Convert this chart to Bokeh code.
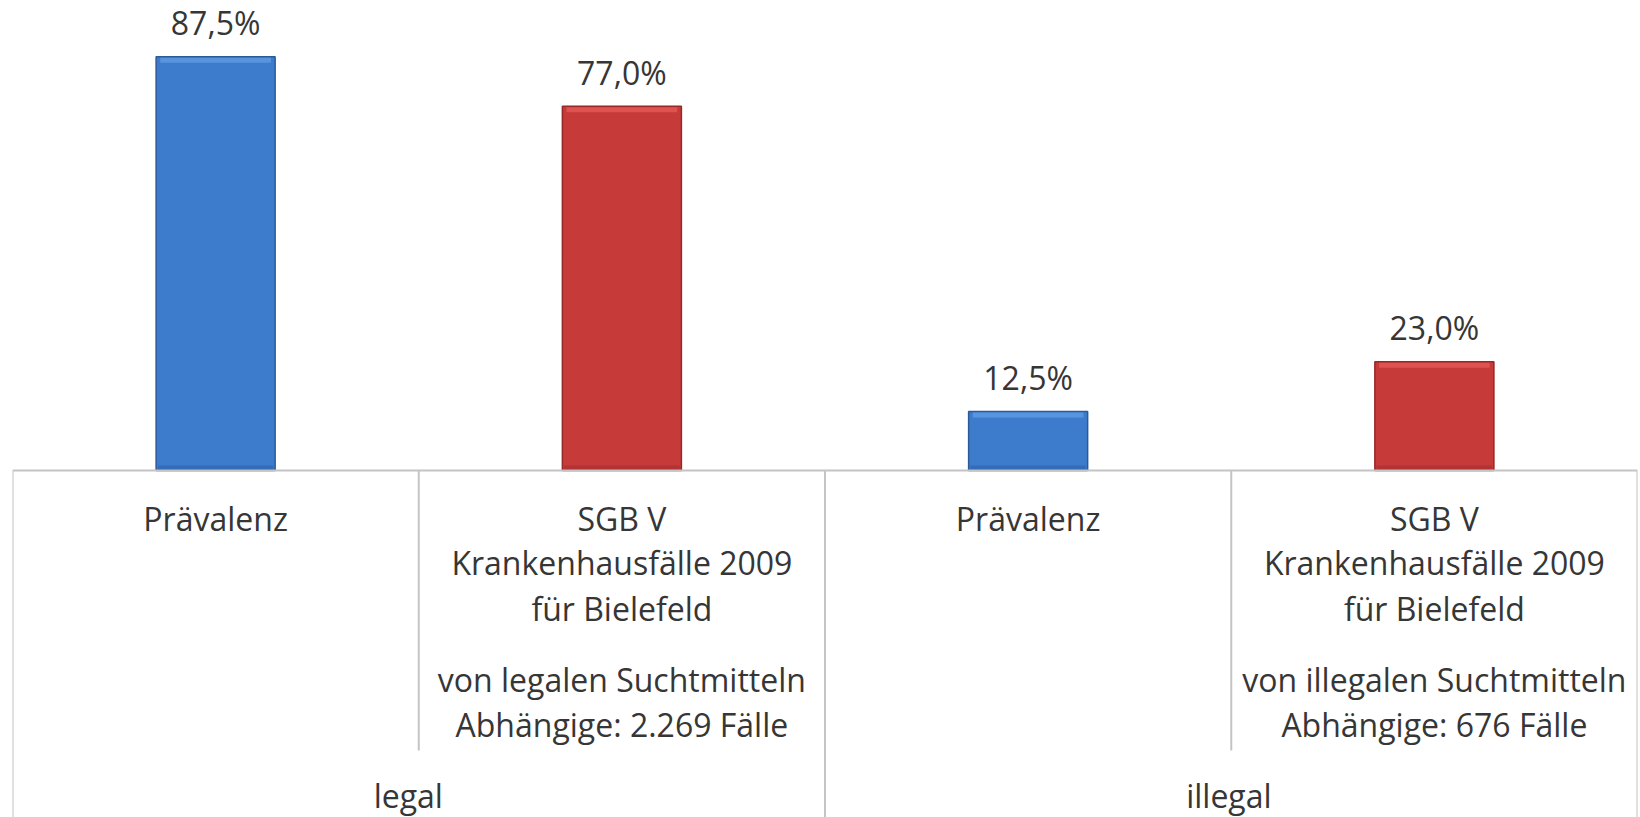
from bokeh.plotting import figure
from bokeh.models import ColumnDataSource, Range1d
from bokeh.core.properties import value
from bokeh.embed import file_html
from bokeh.resources import INLINE

# ---------------- data ----------------
groups = ["legal", "illegal"]
series = ["Prävalenz", "SGB V Krankenhausfälle 2009 für Bielefeld"]
values = [87.5, 77.0, 12.5, 23.0]
value_labels = ["87,5%", "77,0%", "12,5%", "23,0%"]
cat_lines_main = [
    ["Prävalenz"],
    ["SGB V", "Krankenhausfälle 2009", "für Bielefeld"],
    ["Prävalenz"],
    ["SGB V", "Krankenhausfälle 2009", "für Bielefeld"],
]
cat_lines_note = [
    [],
    ["von legalen Suchtmitteln", "Abhängige: 2.269 Fälle"],
    [],
    ["von illegalen Suchtmitteln", "Abhängige: 676 Fälle"],
]
bar_series = [0, 1, 0, 1]

# ---------------- styling ----------------
FONT = "Open Sans"
FS = "32px"
TXT = "#363636"
GRID = "#c4c4c4"
fill_mid = ["#3d7ccc", "#c63a3a"]
fill_top = ["#5b98e0", "#e05552"]
fill_bot = ["#2f62a8", "#a42e2e"]
edge = ["#2c5a99", "#962828"]

W, H = 1640, 817
ML, MR = 12, 3
BASE = 470                    # canvas y of value 0
PXU = 4.73                    # pixels per value unit
Y1 = BASE / PXU
Y0 = (BASE - H) / PXU
TXT_SHIFT = 11                # renderer places alphabetic baseline lower


def ypix(py):
    """value-space y for a canvas-pixel y coordinate"""
    return (BASE - py) / PXU


p = figure(width=W, height=H, output_backend="svg", toolbar_location=None,
           x_range=Range1d(0, len(values)), y_range=Range1d(Y0, Y1),
           min_border_left=ML, min_border_right=MR, min_border_top=0,
           min_border_bottom=0)
p.axis.visible = False
p.grid.visible = False
p.outline_line_color = None
p.background_fill_color = "white"

n = len(values)
xs = [i + 0.5 for i in range(n)]
bw = 0.293

# bars with a simple bevel look
src = ColumnDataSource(dict(
    x=xs, top=values,
    mid=[fill_mid[s] for s in bar_series],
    topc=[fill_top[s] for s in bar_series],
    botc=[fill_bot[s] for s in bar_series],
    edge=[edge[s] for s in bar_series],
    hl_b=[v - 6 / PXU for v in values],
    hl_t=[v - 1 / PXU for v in values],
    sh_t=[5 / PXU for v in values],
))
p.vbar(x="x", top="top", bottom=0, width=bw, source=src,
       fill_color="mid", line_color="edge", line_width=1.5)
p.vbar(x="x", top="hl_t", bottom="hl_b", width=bw * 0.93, source=src,
       fill_color="topc", line_color=None, fill_alpha=0.9)
p.vbar(x="x", top="sh_t", bottom=0, width=bw * 0.97, source=src,
       fill_color="botc", line_color=None, fill_alpha=0.6)

# value labels
p.text(x=xs, y=[v + (23 + TXT_SHIFT) / PXU for v in values], text=value_labels,
       text_font=value(FONT), text_font_size=FS, text_color=TXT,
       text_align="center", text_baseline="alphabetic")

# table lines under the axis
bottom = Y0 - 1
inner_end = ypix(750)
sx0 = [0, 0, n / 2, n]
sy0 = [0, 0, 0, 0]
sx1 = [n, 0, n / 2, n]
sy1 = [0, bottom, bottom, bottom]
for k in range(1, n):
    if k % 2 == 1:
        sx0.append(k)
        sy0.append(0)
        sx1.append(k)
        sy1.append(inner_end)
p.segment(x0=sx0, y0=sy0, x1=sx1, y1=sy1, line_color=GRID, line_width=2)

# category labels
main_base = [529, 573, 619]
note_base = [690, 735]
tx, ty, tt = [], [], []
for i in range(n):
    for j, line in enumerate(cat_lines_main[i]):
        tx.append(xs[i]); ty.append(ypix(main_base[j] - TXT_SHIFT)); tt.append(line)
    for j, line in enumerate(cat_lines_note[i]):
        tx.append(xs[i]); ty.append(ypix(note_base[j] - TXT_SHIFT)); tt.append(line)
p.text(x=tx, y=ty, text=tt, text_font=value(FONT), text_font_size=FS,
       text_color=TXT, text_align="center", text_baseline="alphabetic")

# group labels
gx = [g * 2 + 0.889 for g in range(len(groups))]
p.text(x=gx, y=[ypix(806 - TXT_SHIFT)] * len(groups), text=groups,
       text_font=value(FONT), text_font_size=FS, text_color=TXT,
       text_align="left", text_baseline="alphabetic")

open("out.html", "w").write(file_html(p, INLINE))
